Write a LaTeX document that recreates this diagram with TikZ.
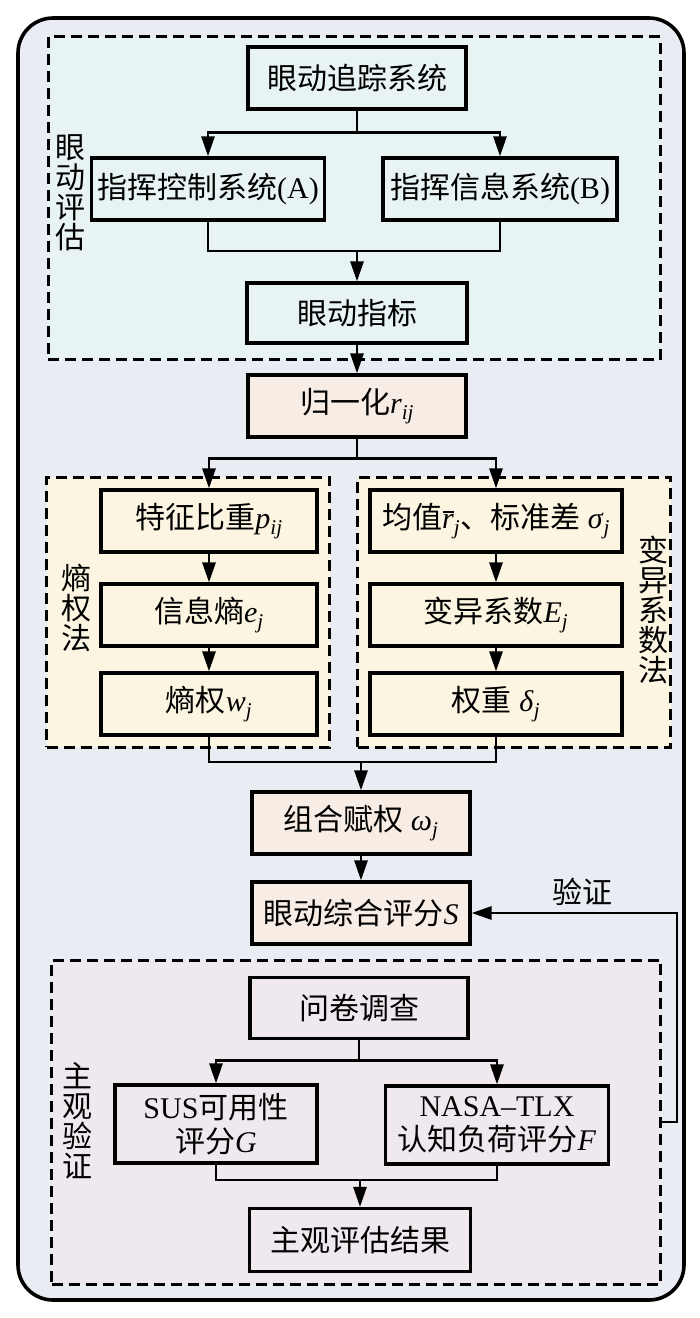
\documentclass[tikz,border=0pt]{standalone}
\usepackage{fontspec}
\setmainfont{Liberation Serif}
\newfontfamily\cjk{Noto Sans CJK SC}
\usetikzlibrary{arrows.meta}
\definecolor{panelbg}{HTML}{E9ECF2}
\definecolor{evalbg}{HTML}{E8F4F4}
\definecolor{peach}{HTML}{F7EDE4}
\definecolor{cream}{HTML}{FBF5E1}
\definecolor{lavender}{HTML}{EFE9EF}
\newcommand{\idx}[1]{\textsubscript{\textit{#1}}}
\begin{document}
\begin{tikzpicture}[x=1pt,y=-1pt,
    box/.style={draw,line width=3.2pt,minimum width=218pt,minimum height=62pt,inner sep=2pt,align=center,font=\fontsize{30}{34}\selectfont},
    region/.style={draw,line width=3pt,dash pattern=on 11pt off 6pt},
    lbl/.style={inner sep=0pt,align=center,font=\fontsize{30}{30}\selectfont\cjk},
    conn/.style={line width=2.8pt},
    arr/.style={conn,-{Triangle[length=20pt,width=13pt]}}]
    \useasboundingbox (0,0) rectangle (700,1318);
    \draw[line width=3.6pt,fill=panelbg,rounded corners=35pt] (18,18) rectangle (684,1300);
    \node[region,fill=evalbg,minimum width=612pt,minimum height=323pt] (evalregion) at (354,198) {};
    \node[region,fill=cream,minimum width=283pt,minimum height=270pt] (entregion) at (188,612) {};
    \node[region,fill=cream,minimum width=313pt,minimum height=270pt] (cvregion) at (514,612) {};
    \node[region,fill=lavender,minimum width=609pt,minimum height=324pt] (subjregion) at (356,1122) {};
    \node[box] (track) at (357,78) {\cjk 眼动追踪系统};
    \node[box,minimum width=233pt] (sysA) at (208,189) {{\cjk 指挥控制系统}(A)};
    \node[box,minimum width=234pt] (sysB) at (500,189) {{\cjk 指挥信息系统}(B)};
    \node[box,minimum width=220pt,minimum height=60pt] (eyeidx) at (357,313) {\cjk 眼动指标};
    \node[box,fill=peach] (norm) at (357,406) {{\cjk 归一化}\textit{r}\idx{ij}};
    \node[box,minimum width=216pt] (prop) at (209,521) {{\cjk 特征比重}\textit{p}\idx{ij}};
    \node[box,minimum width=216pt] (entropy) at (209,615) {{\cjk 信息熵}\textit{e}\idx{j}};
    \node[box,minimum width=216pt] (entw) at (209,704) {{\cjk 熵权}\textit{w}\idx{j}};
    \node[box,minimum width=252pt] (meanstd) at (496,521) {{\cjk 均值}\textit{r}\llap{\rule[16pt]{11pt}{1.5pt}}\idx{j}{\cjk 、标准差} \textit{σ}\idx{j}};
    \node[box,minimum width=252pt] (cv) at (496,615) {{\cjk 变异系数}\textit{E}\idx{j}};
    \node[box,minimum width=252pt] (cvw) at (496,704) {{\cjk 权重} \textit{δ}\idx{j}};
    \node[box,fill=peach] (comb) at (361,823) {{\cjk 组合赋权} \textit{ω}\idx{j}};
    \node[box,fill=peach] (score) at (361,913) {{\cjk 眼动综合评分}\textit{S}};
    \node[box,minimum height=61pt] (quest) at (359,1008) {\cjk 问卷调查};
    \node[box,minimum width=202pt,minimum height=78pt] (sus) at (216,1124) {SUS{\cjk 可用性}\\{\cjk 评分}\textit{G}};
    \node[box,minimum width=223pt,minimum height=78pt] (nasa) at (497,1125) {NASA–TLX\\{\cjk 认知负荷评分}\textit{F}};
    \node[box,minimum width=221pt,minimum height=63pt] (result) at (360,1240) {\cjk 主观评估结果};
    \node[lbl] at (70,193) {眼\\动\\评\\估};
    \node[lbl] at (76,608) {熵\\权\\法};
    \node[lbl] at (653,610) {变\\异\\系\\数\\法};
    \node[lbl] at (77,1121) {主\\观\\验\\证};
    \node[lbl] (verify) at (582,892) {验证};
    \draw[conn] (track.south) -- ++(0,22) coordinate (split1);
    \draw[arr] (split1) -| (sysA);
    \draw[arr] (split1) -| (sysB);
    \coordinate (merge1) at (357,251);
    \draw[conn] (sysA) |- (merge1) -| (sysB);
    \draw[arr] (merge1) -- (eyeidx);
    \draw[arr] (eyeidx) -- (norm);
    \draw[conn] (norm.south) -- ++(0,20) coordinate (split2);
    \draw[arr] (split2) -| (prop);
    \draw[arr] (split2) -| (meanstd);
    \draw[arr] (prop) -- (entropy);
    \draw[arr] (entropy) -- (entw);
    \draw[arr] (meanstd) -- (cv);
    \draw[arr] (cv) -- (cvw);
    \coordinate (merge2) at (361,762);
    \draw[conn] (entw) |- (merge2) -| (cvw);
    \draw[arr] (merge2) -- (comb);
    \draw[arr] (comb) -- (score);
    \draw[conn] (quest.south) -- ++(0,20) coordinate (split3);
    \draw[arr] (split3) -| (sus);
    \draw[arr] (split3) -| (nasa);
    \coordinate (merge3) at (360,1180);
    \draw[conn] (sus) |- (merge3) -| (nasa);
    \draw[arr] (merge3) -- (result);
    \draw[arr] (subjregion.east) -- ++(15,0) |- (score.east);
\end{tikzpicture}
\end{document}
